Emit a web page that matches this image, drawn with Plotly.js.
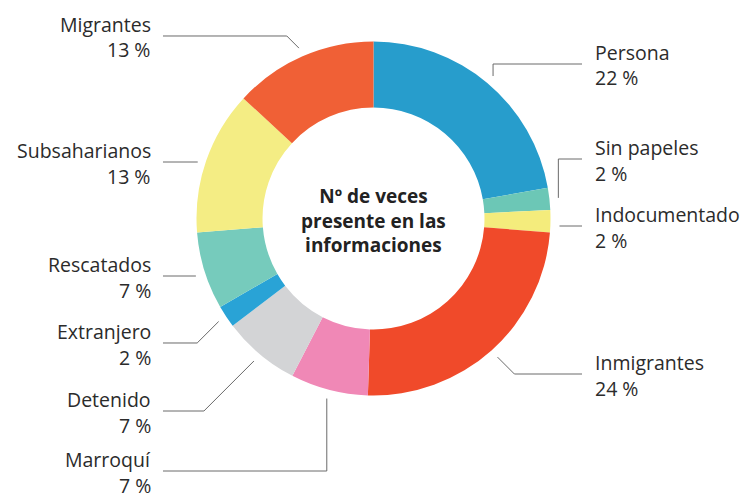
<!DOCTYPE html>
<html>
<head>
<meta charset="utf-8">
<script src="https://cdn.plot.ly/plotly-3.0.1.min.js"></script>
<style>html,body{margin:0;padding:0;background:#fff;}#chart{width:745px;height:499px;}</style>
</head>
<body>
<div id="chart"></div>
<script>
// ---- data ----
const categories = ['Persona','Sin papeles','Indocumentado','Inmigrantes','Marroquí','Detenido','Extranjero','Rescatados','Subsaharianos','Migrantes'];
const values = [22, 2, 2, 24, 7, 7, 2, 7, 13, 13];
const centerTitle = 'Nº de veces<br>presente en las<br>informaciones';

// ---- styles / layout config ----
const colors = ['#279dcc','#6cc7b6','#f4ec7c','#f04a2a','#f088b6','#d3d4d6','#29a3d6','#76cbbc','#f4ed84','#f06036'];
const labelSide = ['right','right','right','right','left','left','left','left','left','left'];
const lineYpx = [64, 159, 226, 374, 471, 411, 343, 276, 162, 36];
const elbowType = ['v','v','h','d','v','d','d','h','h','d'];

const W = 745, H = 499;
const cx = 373.5, cy = 218.5, R = 177, holeFrac = 0.627, anchorR = 186;
const rightLineEnd = 582, leftLineEnd = 163, rightTextX = 593, leftTextX = 153;
const FONT = 'Open Sans, sans-serif';
const px = x => x / W, py = y => 1 - y / H;

const total = values.reduce((a, b) => a + b, 0);
const shapes = [], annotations = [];
let cum = 0;
values.forEach((v, i) => {
  const mid = (cum + v / 2) / total * 2 * Math.PI;
  cum += v;
  const ax = cx + anchorR * Math.sin(mid), ay = cy - anchorR * Math.cos(mid);
  const side = labelSide[i], dir = side === 'left' ? -1 : 1;
  const ly = lineYpx[i];
  const endX = side === 'left' ? leftLineEnd : rightLineEnd;
  let pts;
  if (elbowType[i] === 'v') pts = [[ax, ay], [ax, ly], [endX, ly]];
  else if (elbowType[i] === 'd') pts = [[ax, ay], [ax + dir * Math.abs(ly - ay), ly], [endX, ly]];
  else pts = [[ax, ly], [endX, ly]];
  const path = pts.map((p, k) => (k ? 'L' : 'M') + px(p[0]).toFixed(5) + ',' + py(p[1]).toFixed(5)).join(' ');
  shapes.push({type: 'path', xref: 'paper', yref: 'paper', path: path, line: {color: '#6a6a6a', width: 1}});
  const tx = side === 'left' ? leftTextX : rightTextX;
  const xa = side === 'left' ? 'right' : 'left';
  annotations.push({xref: 'paper', yref: 'paper', x: px(tx), y: py(ly - 11.5), xanchor: xa, yanchor: 'middle',
    text: categories[i], showarrow: false, align: xa, font: {family: FONT, size: 19.5, color: '#2b2b2b'}});
  annotations.push({xref: 'paper', yref: 'paper', x: px(tx), y: py(ly + 14), xanchor: xa, yanchor: 'middle',
    text: v + ' %', showarrow: false, align: xa, font: {family: FONT, size: 19.5, color: '#2b2b2b'}});
});
annotations.push({xref: 'paper', yref: 'paper', x: px(cx), y: py(220), xanchor: 'center', yanchor: 'middle',
  text: '<b>' + centerTitle + '</b>', showarrow: false, align: 'center', font: {family: FONT, size: 19, color: '#222'}});

const trace = {
  type: 'pie', labels: categories, values: values, sort: false, direction: 'clockwise', rotation: 0,
  hole: holeFrac, textinfo: 'none', hoverinfo: 'label+value',
  marker: {colors: colors, line: {width: 0}},
  domain: {x: [px(cx - R), px(cx + R)], y: [py(cy + R), py(cy - R)]},
  showlegend: false
};

Plotly.newPlot('chart', [trace], {
  width: W, height: H, margin: {l: 0, r: 0, t: 0, b: 0},
  paper_bgcolor: '#fff', plot_bgcolor: '#fff', showlegend: false,
  shapes: shapes, annotations: annotations
}, {displayModeBar: false, staticPlot: true});
</script>
</body>
</html>
